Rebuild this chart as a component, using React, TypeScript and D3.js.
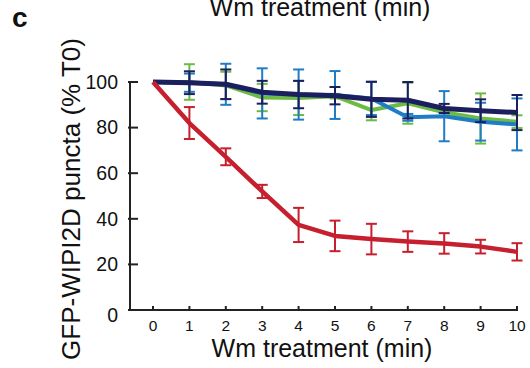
import React, { useEffect, useRef } from "react";
import * as d3 from "d3";

const minutes = [0, 1, 2, 3, 4, 5, 6, 7, 8, 9, 10];
const yTicks = [0, 20, 40, 60, 80, 100];

const navy = [100, 99.7, 99, 95.5, 94.5, 94, 92.4, 92, 88.4, 87.4, 86.6];
const navyErr = [0, 5, 6.5, 5, 6, 3.8, 7.7, 8, 2, 5, 7.7];
const blue = [100, 99.7, 99, 95, 94.5, 94.3, 92.8, 84.5, 85, 82.6, 81.4];
const blueErr = [0, 4, 9, 11, 11, 10.5, 7.3, 1.5, 11, 8.3, 11.4];
const green = [100, 100, 98.5, 93.2, 93, 93.8, 87.7, 90.7, 86.7, 84, 82.6];
const greenErr = [0, 7.8, 6, 6, 7.5, 1, 4.5, 9, 2, 11, 2.8];
const red = [100, 82, 67.2, 52, 37.3, 32.5, 31.1, 30, 29.2, 27.8, 25.5];
const redErr = [0, 7, 3.7, 2.9, 7.5, 6.7, 6.7, 4.5, 4.5, 3, 3.8];

interface Series {
    name: string;
    values: number[];
    err: number[];
    color: string;
    width: number;
}

// drawing order: bottom to top
const series: Series[] = [
    { name: "green", values: green, err: greenErr, color: "#6cbb45", width: 4 },
    { name: "blue", values: blue, err: blueErr, color: "#1f7cc6", width: 4 },
    { name: "navy", values: navy, err: navyErr, color: "#1c1f5e", width: 5 },
    { name: "red", values: red, err: redErr, color: "#c61f2e", width: 4.5 },
];

const FONT = "'Liberation Sans', Arial, Helvetica, sans-serif";

const App: React.FC = () => {
    const ref = useRef<SVGSVGElement | null>(null);

    useEffect(() => {
        const svg = d3.select(ref.current);
        svg.selectAll("*").remove();

        const x = d3.scaleLinear().domain([0, 10]).range([153, 517]);
        const y = d3.scaleLinear().domain([0, 100]).range([310, 82]);

        // top cut-off title and panel letter
        svg.append("text")
            .attr("x", 320)
            .attr("y", 16)
            .attr("text-anchor", "middle")
            .attr("font-family", FONT)
            .attr("font-size", 25)
            .attr("fill", "#111")
            .text("Wm treatment (min)");

        svg.append("text")
            .attr("x", 12)
            .attr("y", 27)
            .attr("font-family", FONT)
            .attr("font-size", 28)
            .attr("font-weight", "bold")
            .attr("fill", "#111")
            .text("c");

        // y axis (ticks point inward)
        const yAxis = svg.append("g").attr("transform", "translate(130,0)");
        yAxis.append("line")
            .attr("x1", 0).attr("x2", 0)
            .attr("y1", y(100) - 1).attr("y2", y(0))
            .attr("stroke", "#222").attr("stroke-width", 2);
        yAxis.selectAll("line.tick")
            .data(yTicks)
            .join("line")
            .attr("class", "tick")
            .attr("x1", -2).attr("x2", 8)
            .attr("y1", (d) => y(d)).attr("y2", (d) => y(d))
            .attr("stroke", "#222").attr("stroke-width", 2);
        yAxis.selectAll("text")
            .data(yTicks)
            .join("text")
            .attr("x", -12)
            .attr("y", (d) => y(d) + (d === 0 ? 5 : 0))
            .attr("dy", "0.35em")
            .attr("text-anchor", "end")
            .attr("font-family", FONT)
            .attr("font-size", 19.5)
            .attr("fill", "#111")
            .text((d) => d);

        // x axis
        const xAxis = svg.append("g").attr("transform", `translate(0,${y(0)})`);
        xAxis.append("line")
            .attr("x1", 128).attr("x2", x(10) + 1)
            .attr("y1", 0).attr("y2", 0)
            .attr("stroke", "#222").attr("stroke-width", 2);
        xAxis.selectAll("line.tick")
            .data(minutes)
            .join("line")
            .attr("class", "tick")
            .attr("x1", (d) => x(d)).attr("x2", (d) => x(d))
            .attr("y1", 0).attr("y2", -4)
            .attr("stroke", "#222").attr("stroke-width", 2);
        xAxis.selectAll("text")
            .data(minutes)
            .join("text")
            .attr("x", (d) => x(d))
            .attr("y", 16)
            .attr("dy", "0.35em")
            .attr("text-anchor", "middle")
            .attr("font-family", FONT)
            .attr("font-size", 15.5)
            .attr("fill", "#111")
            .text((d) => d);

        svg.append("text")
            .attr("x", 322)
            .attr("y", 357)
            .attr("text-anchor", "middle")
            .attr("font-family", FONT)
            .attr("font-size", 25)
            .attr("fill", "#111")
            .text("Wm treatment (min)");

        svg.append("text")
            .attr("transform", `translate(80,199) rotate(-90)`)
            .attr("text-anchor", "middle")
            .attr("font-family", FONT)
            .attr("font-size", 25)
            .attr("textLength", 322)
            .attr("lengthAdjust", "spacingAndGlyphs")
            .attr("fill", "#111")
            .text("GFP-WIPI2D puncta (% T0)");

        const line = d3
            .line<number>()
            .x((_, i) => x(minutes[i]))
            .y((d) => y(d));

        const capW = 5.5;
        series.forEach((s) => {
            const g = svg.append("g").attr("class", s.name);
            g.append("path")
                .datum(s.values)
                .attr("d", line)
                .attr("fill", "none")
                .attr("stroke", s.color)
                .attr("stroke-width", s.width)
                .attr("stroke-linejoin", "round");

            const bars = g
                .selectAll("g.err")
                .data(s.values.map((v, i) => ({ i, v, e: s.err[i] })).filter((d) => d.e > 0))
                .join("g")
                .attr("class", "err")
                .attr("stroke", s.color)
                .attr("stroke-width", 2);
            bars.append("line")
                .attr("x1", (d) => x(d.i)).attr("x2", (d) => x(d.i))
                .attr("y1", (d) => y(d.v + d.e)).attr("y2", (d) => y(d.v - d.e));
            bars.append("line")
                .attr("x1", (d) => x(d.i) - capW).attr("x2", (d) => x(d.i) + capW)
                .attr("y1", (d) => y(d.v + d.e)).attr("y2", (d) => y(d.v + d.e));
            bars.append("line")
                .attr("x1", (d) => x(d.i) - capW).attr("x2", (d) => x(d.i) + capW)
                .attr("y1", (d) => y(d.v - d.e)).attr("y2", (d) => y(d.v - d.e));
        });
    }, []);

    return (
        <svg
            ref={ref}
            width={530}
            height={368}
            style={{ position: "absolute", left: 0, top: 0, background: "#fff" }}
        />
    );
};

export default App;
